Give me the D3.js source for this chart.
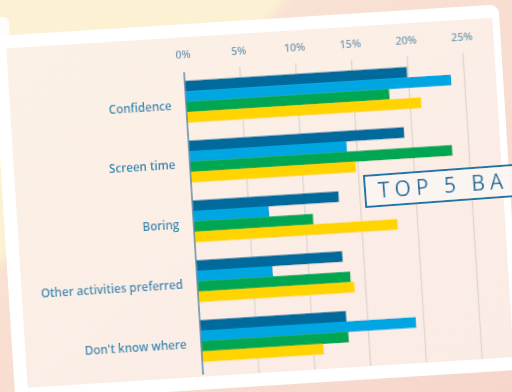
<!DOCTYPE html>
<html>
<head>
<meta charset="utf-8">
<style>
html, body { margin: 0; overflow: hidden; background: #f8e0d0; }
svg { display: block; }
text { font-family: "Open Sans", sans-serif; }
.cat text { fill: #2c86b2; font-size: 11.6px; font-weight: 600; }
.ticks text { fill: #6e99b3; font-size: 10.6px; font-weight: 600; }
.grid line { stroke: #dcd6d2; stroke-width: 1.3px; }
</style>
<script src="https://d3js.org/d3.v7.min.js"></script>
</head>
<body>
<svg width="512" height="392"></svg>
<script>
var categories = ["Confidence", "Screen time", "Boring", "Other activities preferred", "Don't know where"];
var seriesNames = ["Series 1", "Series 2", "Series 3", "Series 4"];
var seriesColors = ["#006a9c", "#00a6e2", "#00a651", "#ffd400"];
// percentages, one list per series, in category order
var series1 = [19.9, 19.3, 13.1, 13.1, 13.1];
var series2 = [23.8, 14.1, 6.8, 6.8, 19.3];
var series3 = [18.2, 23.5, 10.7, 13.7, 13.2];
var series4 = [21.0, 14.8, 18.2, 14.0, 10.9];
var tickValues = [0, 5, 10, 15, 20, 25];
var stampText = "TOP 5 BA";

var seriesValues = [series1, series2, series3, series4];

var svg = d3.select("svg");
var defs = svg.append("defs");

var bg = defs.append("linearGradient").attr("id", "bg")
    .attr("x1", 0).attr("y1", 0).attr("x2", 1).attr("y2", 1);
bg.append("stop").attr("offset", 0).attr("stop-color", "#fae6d6");
bg.append("stop").attr("offset", 1).attr("stop-color", "#f6d6cb");

defs.append("filter").attr("id", "soft")
  .append("feGaussianBlur").attr("stdDeviation", 5);
defs.append("filter").attr("id", "blur")
  .append("feGaussianBlur").attr("stdDeviation", 0.45);

// background
svg.append("rect").attr("width", 512).attr("height", 392).attr("fill", "url(#bg)");
svg.append("path")
    .attr("d", "M-40,-40 L320,-40 L250,40 L-40,300 Z")
    .attr("fill", "#fcf1d2")
    .attr("filter", "url(#soft)");

// card behind at top-left
svg.append("rect")
    .attr("x", -60).attr("y", 17).attr("width", 69).attr("height", 60)
    .attr("rx", 6).attr("fill", "#fffdfb")
    .attr("transform", "rotate(-2,0,20)");

var frame = svg.append("g")
    .attr("transform", "rotate(-3.6,256,196)")
    .attr("filter", "url(#blur)");

// card
frame.append("rect")
    .attr("x", 3).attr("y", 20).attr("width", 507).attr("height", 366)
    .attr("rx", 9).attr("fill", "#ffffff");
var inner = defs.append("linearGradient").attr("id", "inner")
    .attr("x1", 0).attr("y1", 0).attr("x2", 1).attr("y2", 1);
inner.append("stop").attr("offset", 0).attr("stop-color", "#fbf1e6");
inner.append("stop").attr("offset", 1).attr("stop-color", "#fbebe5");
frame.append("rect")
    .attr("x", 16).attr("y", 33).attr("width", 487).attr("height", 340)
    .attr("fill", "url(#inner)");

var x = d3.scaleLinear().domain([0, 25]).range([192, 471.5]);
var y = d3.scaleBand().domain(categories).range([68, 371])
    .paddingInner(0.305).paddingOuter(0.18).align(0.4);
var yInner = d3.scaleBand().domain(d3.range(seriesNames.length)).range([0, y.bandwidth()]);

// gridlines
frame.append("g").attr("class", "grid")
  .selectAll("line")
  .data(tickValues.slice(1))
  .join("line")
    .attr("x1", d => x(d)).attr("x2", d => x(d))
    .attr("y1", 66).attr("y2", 373);

// tick labels
frame.append("g").attr("class", "ticks")
  .selectAll("text")
  .data(tickValues)
  .join("text")
    .attr("x", d => x(d))
    .attr("y", 50.5)
    .attr("dy", "0.35em")
    .attr("text-anchor", "middle")
    .text(d => d + "%");

// bars
var groups = frame.append("g")
  .selectAll("g")
  .data(categories)
  .join("g")
    .attr("transform", d => "translate(0," + y(d) + ")");

groups.selectAll("rect")
  .data((c, i) => seriesValues.map((s, k) => ({ k: k, v: s[i] })))
  .join("rect")
    .attr("x", x(0))
    .attr("y", d => yInner(d.k))
    .attr("width", d => x(d.v) - x(0))
    .attr("height", yInner.bandwidth() + 0.3)
    .attr("fill", d => seriesColors[d.k]);

// axis line
frame.append("line")
    .attr("x1", x(0)).attr("x2", x(0))
    .attr("y1", 68).attr("y2", 371)
    .attr("stroke", "#5c8aa3").attr("stroke-width", 1.5);

// category labels
frame.append("g").attr("class", "cat")
  .selectAll("text")
  .data(categories)
  .join("text")
    .attr("x", 177.5)
    .attr("y", d => y(d) + y.bandwidth() / 2 + 3)
    .attr("dy", "0.35em")
    .attr("text-anchor", "end")
    .text(d => d);

// stamp label
var stamp = svg.append("g")
    .attr("transform", "translate(364,176) rotate(-4.2)")
    .attr("filter", "url(#blur)");
stamp.append("rect")
    .attr("x", 0).attr("y", 0).attr("width", 240).attr("height", 31)
    .attr("fill", "#fbf6f3").attr("fill-opacity", 0.9)
    .attr("stroke", "#1d76a6").attr("stroke-width", 2);
stamp.append("text")
    .attr("x", 13).attr("y", 23)
    .attr("fill", "#1f6f9d")
    .attr("font-size", 21)
    .attr("letter-spacing", 5)
    .text(stampText);
</script>
</body>
</html>
